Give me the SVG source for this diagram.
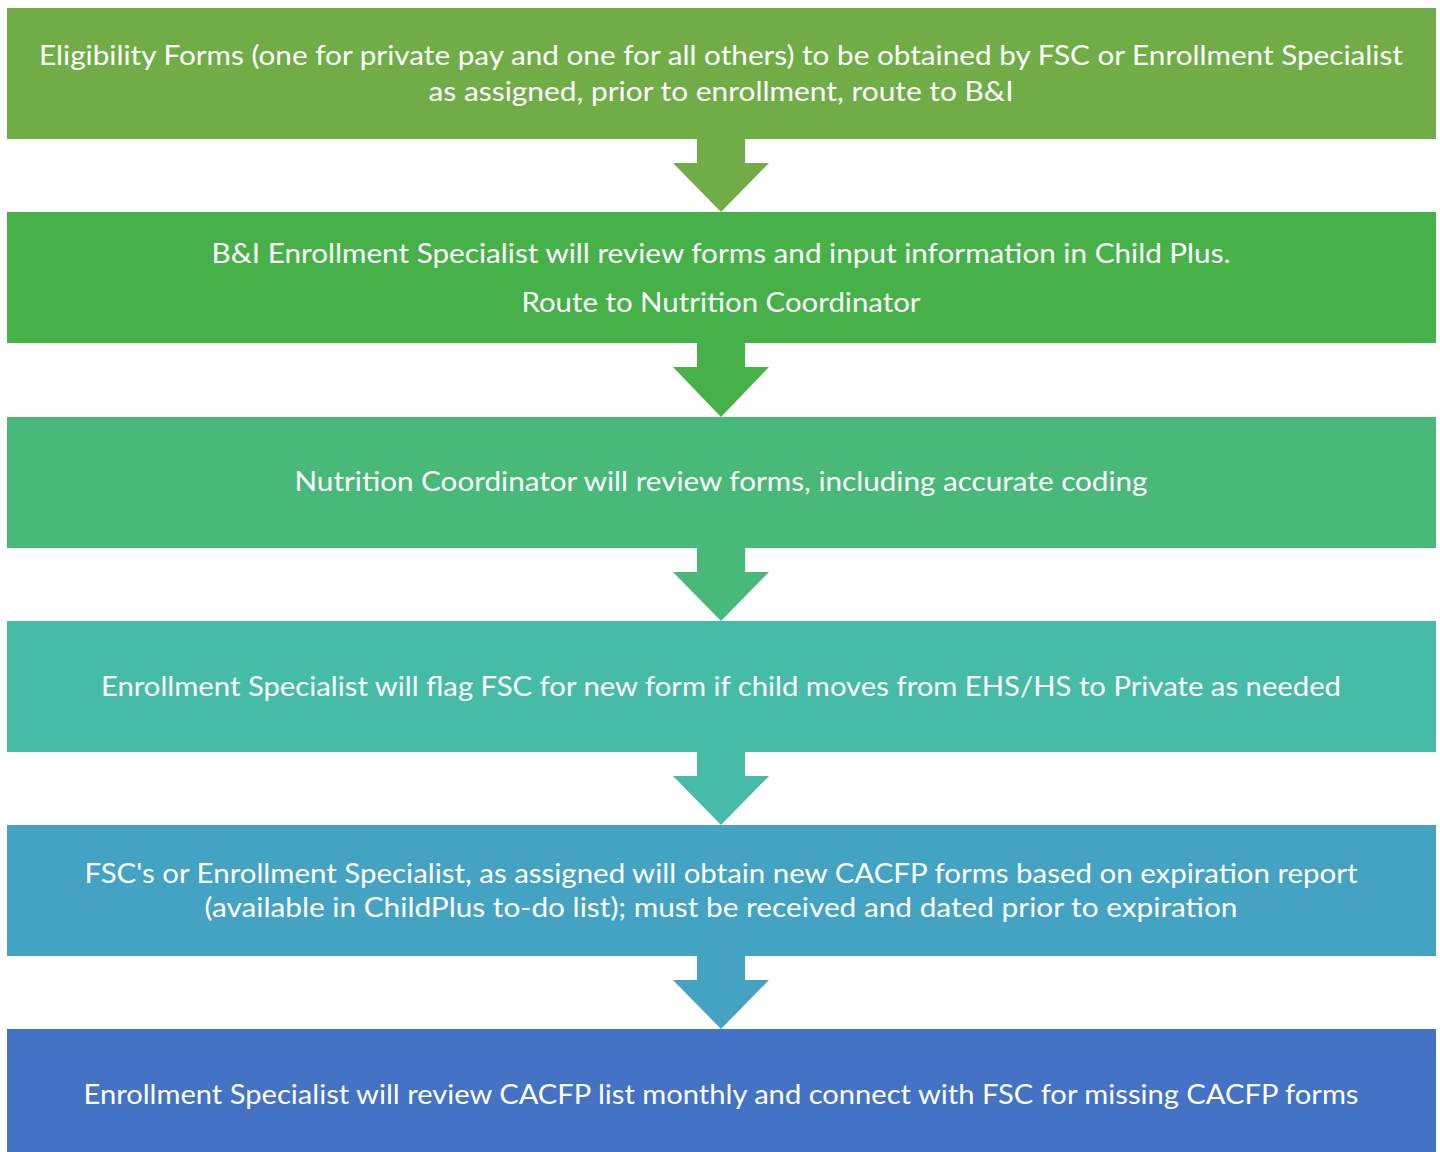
<svg xmlns="http://www.w3.org/2000/svg" width="1440" height="1152" viewBox="0 0 1440 1152">
<style>
.t{font-family:Lato,"Open Sans","Liberation Sans",sans-serif;font-size:27px;fill:#ffffff;text-anchor:middle}
</style>
<rect x="0" y="0" width="1440" height="1152" fill="#ffffff"/>
<g id="connectors">
<polygon fill="#70AD47" points="697,139 745,139 745,163 769,163 721,212 673,163 697,163"/>
<polygon fill="#47B149" points="697,343 745,343 745,367 769,367 721,417 673,367 697,367"/>
<polygon fill="#48B978" points="697,548 745,548 745,572 769,572 721,621 673,572 697,572"/>
<polygon fill="#46BCA6" points="697,752 745,752 745,776 769,776 721,825 673,776 697,776"/>
<polygon fill="#44A3C3" points="697,956 745,956 745,980 769,980 721,1029 673,980 697,980"/>
</g>
<g id="node1">
<rect x="7" y="8" width="1429" height="131" fill="#70AD47"/>
<text class="t" x="721" y="65" textLength="1364" lengthAdjust="spacingAndGlyphs">Eligibility Forms (one for private pay and one for all others) to be obtained by FSC or Enrollment Specialist</text>
<text class="t" x="721" y="101" textLength="585" lengthAdjust="spacingAndGlyphs">as assigned, prior to enrollment, route to B&amp;I</text>
</g>
<g id="node2">
<rect x="7" y="212" width="1429" height="131" fill="#47B149"/>
<text class="t" x="721" y="263" textLength="1019" lengthAdjust="spacingAndGlyphs">B&amp;I Enrollment Specialist will review forms and input information in Child Plus.</text>
<text class="t" x="721" y="312" textLength="399" lengthAdjust="spacingAndGlyphs">Route to Nutrition Coordinator</text>
</g>
<g id="node3">
<rect x="7" y="417" width="1429" height="131" fill="#48B978"/>
<text class="t" x="721" y="491" textLength="853" lengthAdjust="spacingAndGlyphs">Nutrition Coordinator will review forms, including accurate coding</text>
</g>
<g id="node4">
<rect x="7" y="621" width="1429" height="131" fill="#46BCA6"/>
<text class="t" x="721" y="696" textLength="1240" lengthAdjust="spacingAndGlyphs">Enrollment Specialist will flag FSC for new form if child moves from EHS/HS to Private as needed</text>
</g>
<g id="node5">
<rect x="7" y="825" width="1429" height="131" fill="#44A3C3"/>
<text class="t" x="721" y="883" textLength="1273" lengthAdjust="spacingAndGlyphs">FSC's or Enrollment Specialist, as assigned will obtain new CACFP forms based on expiration report</text>
<text class="t" x="721" y="917" textLength="1033" lengthAdjust="spacingAndGlyphs">(available in ChildPlus to-do list); must be received and dated prior to expiration</text>
</g>
<g id="node6">
<rect x="7" y="1029" width="1429" height="131" fill="#4472C4"/>
<text class="t" x="721" y="1104" textLength="1275" lengthAdjust="spacingAndGlyphs">Enrollment Specialist will review CACFP list monthly and connect with FSC for missing CACFP forms</text>
</g>
</svg>
